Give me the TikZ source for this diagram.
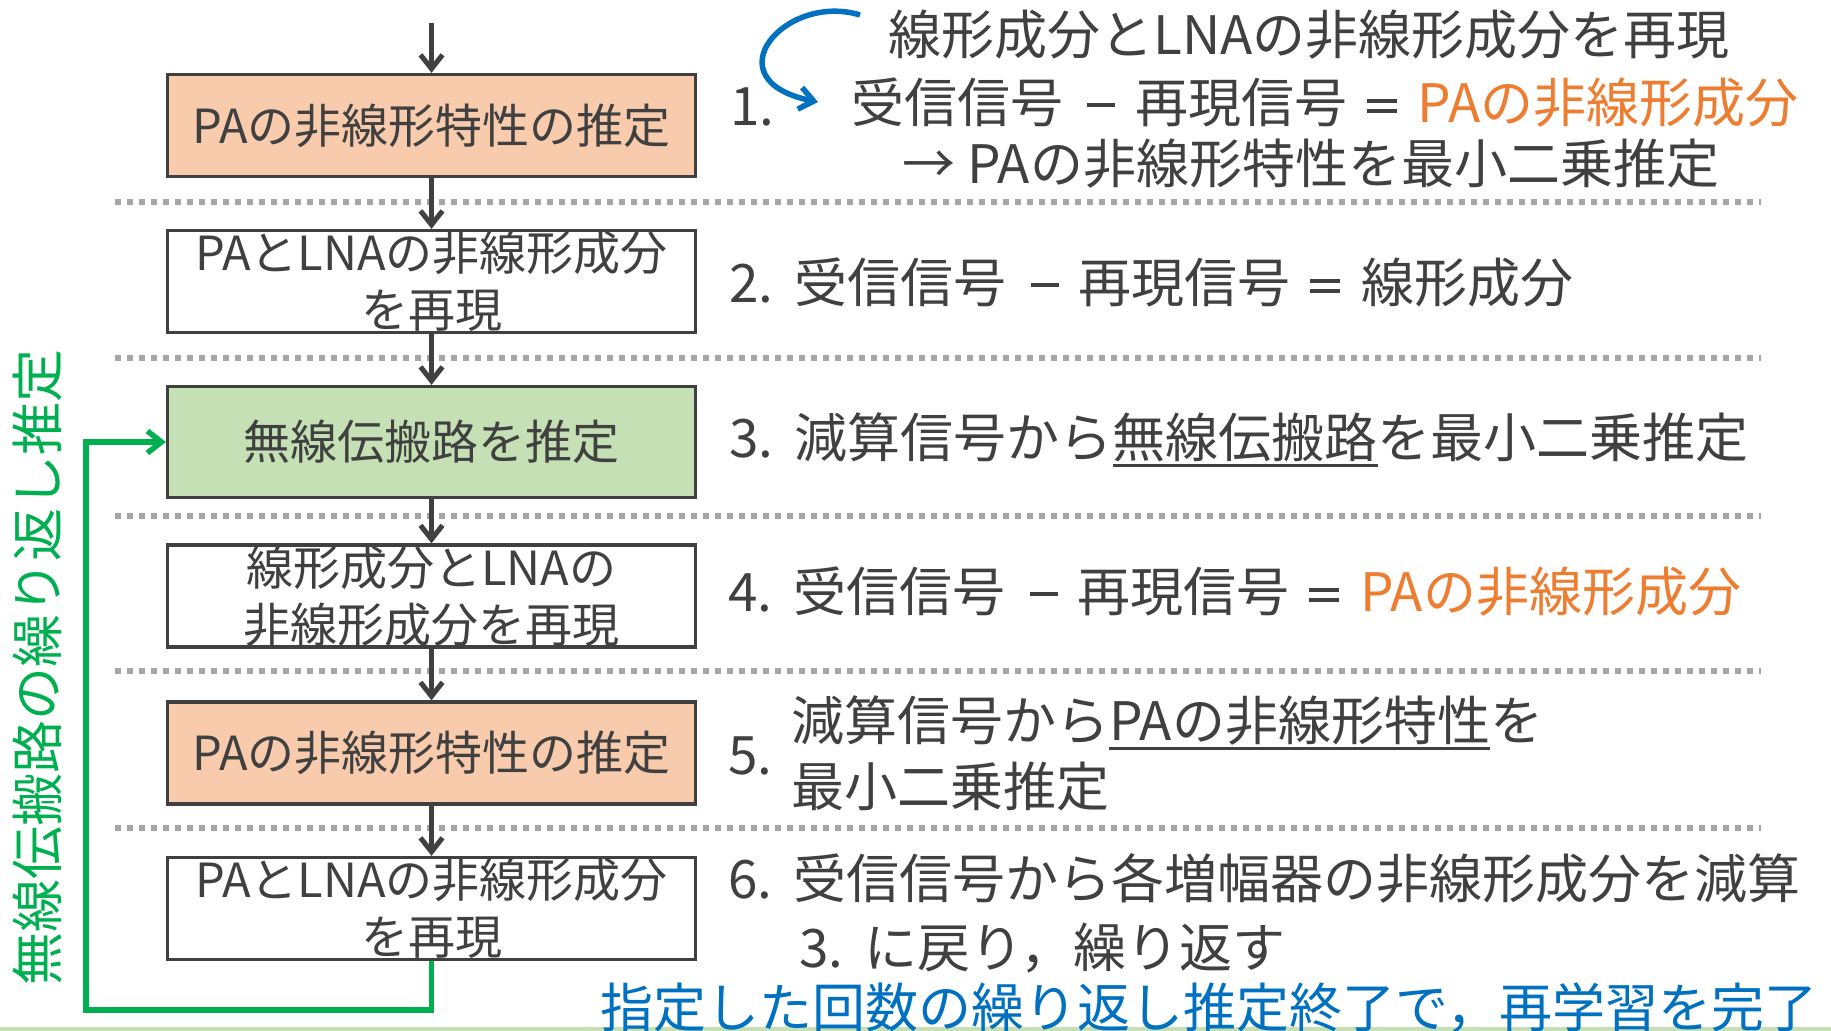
\documentclass[tikz,border=0pt]{standalone}
\usepackage{fontspec}
\setmainfont{Noto Sans CJK JP}
\usetikzlibrary{arrows.meta}
\definecolor{txt}{HTML}{404040}
\definecolor{peach}{HTML}{F8CBAD}
\definecolor{lgreen}{HTML}{C5E0B4}
\definecolor{orng}{HTML}{ED7D31}
\definecolor{blu}{HTML}{0070C0}
\definecolor{grn}{HTML}{00B050}
\definecolor{dotgray}{HTML}{A6A6A6}
\newcommand\mydash{\hspace{0.45em}\rule[0.285em]{0.53em}{0.075em}\hspace{0.38em}}
\newcommand\myeq{\hspace{0.36em}\rlap{\rule[0.37em]{0.57em}{0.075em}}\rule[0.17em]{0.57em}{0.075em}\hspace{0.4em}}
\newcommand\myul[1]{\setbox0\hbox{#1}\rlap{\raisebox{-0.18em}{\rule{\wd0}{0.06em}}}\box0}
\tikzset{
  stepbox/.style={draw=txt, line width=1.65pt, minimum width=264pt, minimum height=51pt,
    inner sep=0pt, align=center, text=txt, font=\fontsize{23.5pt}{28.5pt}\selectfont},
  rtext/.style={anchor=west, inner sep=0pt, text=txt, text height=22pt, text depth=1.85pt,
    font=\fontsize{26.5pt}{30pt}\selectfont},
  flow/.style={draw=txt, line width=2.5pt, -{Straight Barb[length=7pt,width=11pt]}},
  sepline/.style={draw=dotgray, line width=3pt, dash pattern=on 3pt off 3pt},
  loopline/.style={draw=grn, line width=2.75pt, -{Straight Barb[length=7pt,width=11pt]}},
  bluearrow/.style={draw=blu, line width=2.75pt, -{Straight Barb[length=7pt,width=11pt]}}
}
\begin{document}
\begin{tikzpicture}[x=0.5pt,y=-0.5pt]
\useasboundingbox (0,0) rectangle (1831,1031);
\fill[white] (0,0) rectangle (1831,1031);
\fill[lgreen] (0,1027) rectangle (1831,1031);

% separators
\foreach \yy in {202,358.5,516,671,828}
  \draw[sepline] (115,\yy) -- (1761,\yy);

% boxes
\node[stepbox, fill=peach] (b1) at (431.5,125.5) {PAの非線形特性の推定};
\node[stepbox, fill=white] (b2) at (431.5,281.5) {PAとLNAの非線形成分\\を再現};
\node[stepbox, fill=lgreen, minimum height=55.5pt] (b3) at (431.5,442) {無線伝搬路を推定};
\node[stepbox, fill=white] (b4) at (431.5,596) {線形成分とLNAの\\非線形成分を再現};
\node[stepbox, fill=peach] (b5) at (431.5,753) {PAの非線形特性の推定};
\node[stepbox, fill=white] (b6) at (431.5,908.5) {PAとLNAの非線形成分\\を再現};

% flow arrows
\coordinate (start) at (431.5,23);
\draw[flow] (start) -- (b1);
\draw[flow] (b1) -- (b2);
\draw[flow] (b2) -- (b3);
\draw[flow] (b3) -- (b4);
\draw[flow] (b4) -- (b5);
\draw[flow] (b5) -- (b6);

% loop back
\coordinate (lc) at (86,1010);
\draw[loopline] (b6.south) |- (lc) |- (b3.west);
\node[rotate=90, inner sep=0pt, text=grn, text height=22pt, text depth=1.85pt,
  font=\fontsize{26.5pt}{30pt}\selectfont] (vt) at (37,667) {無線伝搬路の繰り返し推定};

% step 1
\coordinate (ba) at (860,15);
\coordinate (bb) at (818,102);
\draw[bluearrow] (ba) .. controls (785,-8) and (710,80) .. (bb);
\node[rtext] (n1) at (730,105) {1.};
\node[rtext] (t1a) at (888,34) {線形成分とLNAの非線形成分を再現};
\node[rtext] (t1b) at (851,102) {受信信号\mydash 再現信号\myeq\textcolor{orng}{PAの非線形成分}};
\node[rtext] (t1c) at (902,163) {→ PAの非線形特性を最小二乗推定};

% step 2
\node[rtext] (t2) at (729,282) {2.\hspace{0.4em}受信信号\mydash 再現信号\myeq 線形成分};
% step 3
\node[rtext] (t3) at (729,437) {3.\hspace{0.4em}減算信号から\myul{無線伝搬路}を最小二乗推定};
% step 4
\node[rtext] (t4) at (728,591) {4.\hspace{0.4em}受信信号\mydash 再現信号\myeq\textcolor{orng}{PAの非線形成分}};
% step 5
\node[rtext] (n5) at (728,754) {5.};
\node[rtext] (t5a) at (791,720) {減算信号から\myul{PAの非線形特性}を};
\node[rtext] (t5b) at (791,786) {最小二乗推定};
% step 6
\node[rtext] (t6a) at (728,878) {6.\hspace{0.4em}受信信号から各増幅器の非線形成分を減算};
\node[rtext] (t6b) at (799,947) {3.\hspace{0.4em}に戻り，繰り返す};

% final note
\node[rtext, text=blu] (fin) at (600,1007) {指定した回数の繰り返し推定終了で，再学習を完了};
\end{tikzpicture}
\end{document}
